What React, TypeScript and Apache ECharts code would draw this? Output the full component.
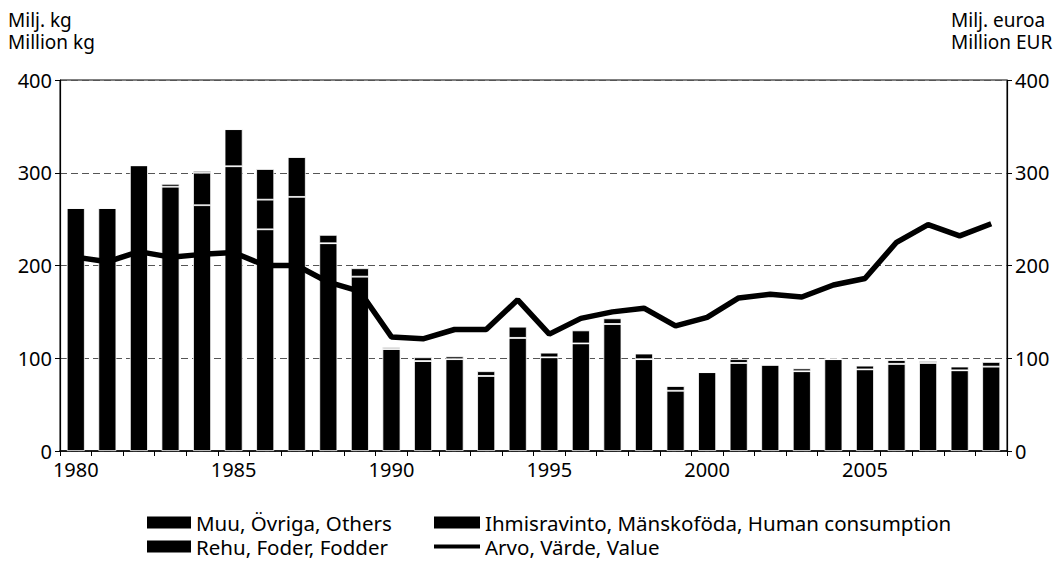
import React, { useEffect, useRef } from "react";
import * as echarts from "echarts";

const years = Array.from({ length: 30 }, (_, i) => String(1980 + i));
const human = [262, 262, 308, 285, 265, 307, 239, 274, 224, 188, 110, 97, 99, 81, 122, 101, 116, 137, 99, 65, 85, 95, 93, 86, 99, 88, 94, 95, 87, 91];
const fodder = [0, 0, 0, 0, 35, 40, 32, 43, 0, 0, 0, 0, 0, 0, 0, 0, 0, 0, 0, 0, 0, 0, 0, 0, 0, 0, 0, 0, 0, 0];
const others = [0, 0, 0, 3, 2, 0, 33, 0, 9, 9, 2, 4, 3, 5, 12, 5, 14, 6, 6, 5, 0, 4, 0, 3, 0, 4, 4, 2, 4, 5];
const value = [209, 204, 215, 209, 212, 214, 200, 200, 182, 172, 123, 121, 131, 131, 163, 126, 143, 150, 154, 135, 144, 165, 169, 166, 179, 186, 225, 244, 232, 245];

const names = {
  others: "Muu, Övriga, Others",
  human: "Ihmisravinto, Mänskoföda, Human consumption",
  fodder: "Rehu, Foder, Fodder",
  value: "Arvo, Värde, Value",
};

const leftTitle = ["Milj. kg", "Million kg"];
const rightTitle = ["Milj. euroa", "Million EUR"];

const FONT = "Noto Sans";
const FS = 20;
const TFS = 19;
const LFS = 20.5;

export default function App() {
  const ref = useRef<HTMLDivElement>(null);
  useEffect(() => {
    const chart = echarts.init(ref.current!, null, { renderer: "svg" });
    const legendBase = {
      orient: "horizontal",
      padding: 0,
      itemWidth: 44,
      itemHeight: 12,
      itemGap: 8,
      textStyle: { fontFamily: FONT, fontSize: LFS, color: "#000", lineHeight: 21 },
      itemStyle: { borderWidth: 0, borderColor: "#000", color: "#000" },
      selectedMode: false,
    };
    const iconStyle = { color: "#000", borderWidth: 0, borderColor: "#000" };
    const barStyle = { color: "#000", borderColor: "#fff", borderWidth: 0.8 };
    const titleStyle = (text: string) => ({ text, fontSize: TFS, fontFamily: FONT, lineHeight: 20, fill: "#000" });
    chart.setOption({
      animation: false,
      textStyle: { fontFamily: FONT },
      grid: { left: 60, right: 51, top: 80, bottom: 111, show: true, borderColor: "#000", borderWidth: 1 },
      legend: [
        { ...legendBase, data: [{ name: names.others, icon: "rect", itemStyle: iconStyle }], left: 147, top: 512 },
        { ...legendBase, itemWidth: 46, data: [{ name: names.human, icon: "rect", itemStyle: iconStyle }], left: 434, top: 512 },
        { ...legendBase, data: [{ name: names.fodder, icon: "rect", itemStyle: iconStyle }], left: 147, top: 536 },
        { ...legendBase, itemWidth: 46, itemHeight: 4, data: [{ name: names.value, icon: "rect", itemStyle: iconStyle }], left: 434, top: 536 },
      ],
      graphic: [
        { type: "text", left: 8, top: 10, style: titleStyle(leftTitle[0]) },
        { type: "text", left: 8, top: 32, style: titleStyle(leftTitle[1]) },
        { type: "text", left: 951, top: 10, style: titleStyle(rightTitle[0]) },
        { type: "text", left: 951, top: 32, style: titleStyle(rightTitle[1]) },
      ],
      xAxis: {
        type: "category",
        data: years,
        boundaryGap: true,
        axisLine: { lineStyle: { color: "#000", width: 1.5 } },
        axisTick: { show: true, interval: 0, length: 5, lineStyle: { color: "#000" } },
        axisLabel: { interval: 4, color: "#000", fontSize: FS, fontFamily: FONT, margin: 8 },
      },
      yAxis: [
        {
          type: "value",
          min: 0,
          max: 400,
          interval: 100,
          axisLine: { show: true, lineStyle: { color: "#000", width: 1.2 } },
          axisTick: { show: true, length: 5, lineStyle: { color: "#000" } },
          axisLabel: { color: "#000", fontSize: FS, fontFamily: FONT, margin: 8 },
          splitLine: { show: true, lineStyle: { color: "#555", width: 1, type: [7, 4] } },
        },
        {
          type: "value",
          min: 0,
          max: 400,
          interval: 100,
          position: "right",
          axisLine: { show: true, lineStyle: { color: "#000", width: 1.2 } },
          axisTick: { show: true, length: 5, lineStyle: { color: "#000" } },
          axisLabel: { color: "#000", fontSize: FS, fontFamily: FONT, margin: 8 },
          splitLine: { show: false },
        },
      ],
      series: [
        { name: names.human, type: "bar", stack: "t", data: human, barWidth: 18, itemStyle: barStyle },
        { name: names.fodder, type: "bar", stack: "t", data: fodder, barWidth: 18, itemStyle: barStyle },
        { name: names.others, type: "bar", stack: "t", data: others, barWidth: 18, itemStyle: barStyle },
        {
          name: names.value,
          type: "line",
          yAxisIndex: 1,
          data: value,
          symbol: "none",
          z: 5,
          lineStyle: { color: "#000", width: 5.5 },
          itemStyle: { color: "#000" },
        },
      ],
    });
    return () => chart.dispose();
  }, []);
  return <div ref={ref} style={{ position: "absolute", left: 0, top: 0, width: 1058, height: 562 }} />;
}
